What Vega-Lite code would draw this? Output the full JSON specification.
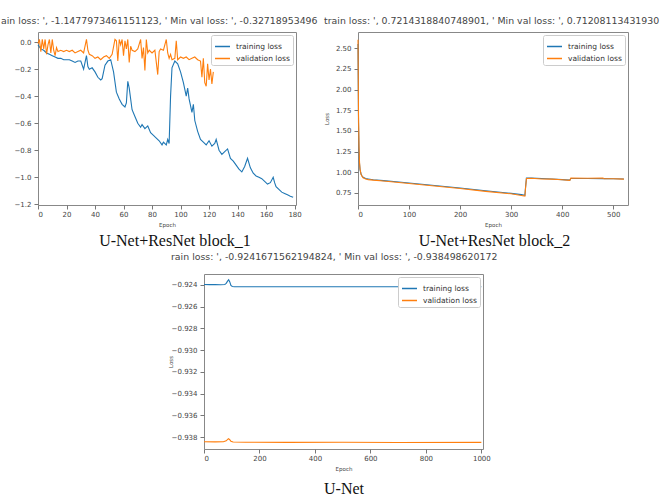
{
"$schema": "https://vega.github.io/schema/vega-lite/v6.json",
"padding": {"left": 0, "top": 15, "right": 0, "bottom": 0},
"background": "white",
"datasets": {
"d1": [
{"epoch":0,"loss":-0.02,"series":"training loss"},{"epoch":2,"loss":-0.05,"series":"training loss"},{"epoch":4,"loss":-0.06,"series":"training loss"},{"epoch":6,"loss":-0.08,"series":"training loss"},{"epoch":8,"loss":-0.09,"series":"training loss"},{"epoch":10,"loss":-0.10,"series":"training loss"},{"epoch":12,"loss":-0.11,"series":"training loss"},{"epoch":14,"loss":-0.12,"series":"training loss"},{"epoch":16,"loss":-0.12,"series":"training loss"},{"epoch":18,"loss":-0.13,"series":"training loss"},{"epoch":20,"loss":-0.13,"series":"training loss"},{"epoch":22,"loss":-0.13,"series":"training loss"},{"epoch":24,"loss":-0.14,"series":"training loss"},{"epoch":26,"loss":-0.15,"series":"training loss"},{"epoch":28,"loss":-0.14,"series":"training loss"},{"epoch":30,"loss":-0.14,"series":"training loss"},{"epoch":32,"loss":-0.20,"series":"training loss"},{"epoch":33,"loss":-0.15,"series":"training loss"},{"epoch":34,"loss":-0.10,"series":"training loss"},{"epoch":35,"loss":-0.18,"series":"training loss"},{"epoch":36,"loss":-0.20,"series":"training loss"},{"epoch":38,"loss":-0.19,"series":"training loss"},{"epoch":40,"loss":-0.22,"series":"training loss"},{"epoch":42,"loss":-0.26,"series":"training loss"},{"epoch":44,"loss":-0.28,"series":"training loss"},{"epoch":45,"loss":-0.27,"series":"training loss"},{"epoch":47,"loss":-0.17,"series":"training loss"},{"epoch":49,"loss":-0.14,"series":"training loss"},{"epoch":51,"loss":-0.13,"series":"training loss"},{"epoch":53,"loss":-0.22,"series":"training loss"},{"epoch":55,"loss":-0.37,"series":"training loss"},{"epoch":57,"loss":-0.42,"series":"training loss"},{"epoch":59,"loss":-0.46,"series":"training loss"},{"epoch":61,"loss":-0.48,"series":"training loss"},{"epoch":62,"loss":-0.45,"series":"training loss"},{"epoch":63,"loss":-0.29,"series":"training loss"},{"epoch":64,"loss":-0.34,"series":"training loss"},{"epoch":66,"loss":-0.50,"series":"training loss"},{"epoch":68,"loss":-0.55,"series":"training loss"},{"epoch":70,"loss":-0.60,"series":"training loss"},{"epoch":72,"loss":-0.63,"series":"training loss"},{"epoch":73,"loss":-0.61,"series":"training loss"},{"epoch":75,"loss":-0.64,"series":"training loss"},{"epoch":77,"loss":-0.62,"series":"training loss"},{"epoch":79,"loss":-0.67,"series":"training loss"},{"epoch":81,"loss":-0.69,"series":"training loss"},{"epoch":83,"loss":-0.71,"series":"training loss"},{"epoch":85,"loss":-0.73,"series":"training loss"},{"epoch":87,"loss":-0.76,"series":"training loss"},{"epoch":88,"loss":-0.74,"series":"training loss"},{"epoch":90,"loss":-0.76,"series":"training loss"},{"epoch":91,"loss":-0.72,"series":"training loss"},{"epoch":92,"loss":-0.75,"series":"training loss"},{"epoch":93,"loss":-0.40,"series":"training loss"},{"epoch":94,"loss":-0.19,"series":"training loss"},{"epoch":96,"loss":-0.14,"series":"training loss"},{"epoch":98,"loss":-0.16,"series":"training loss"},{"epoch":100,"loss":-0.22,"series":"training loss"},{"epoch":102,"loss":-0.30,"series":"training loss"},{"epoch":104,"loss":-0.40,"series":"training loss"},{"epoch":105,"loss":-0.34,"series":"training loss"},{"epoch":106,"loss":-0.42,"series":"training loss"},{"epoch":108,"loss":-0.52,"series":"training loss"},{"epoch":109,"loss":-0.46,"series":"training loss"},{"epoch":110,"loss":-0.58,"series":"training loss"},{"epoch":112,"loss":-0.66,"series":"training loss"},{"epoch":114,"loss":-0.72,"series":"training loss"},{"epoch":116,"loss":-0.74,"series":"training loss"},{"epoch":118,"loss":-0.76,"series":"training loss"},{"epoch":120,"loss":-0.73,"series":"training loss"},{"epoch":122,"loss":-0.77,"series":"training loss"},{"epoch":124,"loss":-0.75,"series":"training loss"},{"epoch":125,"loss":-0.72,"series":"training loss"},{"epoch":127,"loss":-0.80,"series":"training loss"},{"epoch":129,"loss":-0.83,"series":"training loss"},{"epoch":131,"loss":-0.81,"series":"training loss"},{"epoch":133,"loss":-0.79,"series":"training loss"},{"epoch":135,"loss":-0.86,"series":"training loss"},{"epoch":137,"loss":-0.88,"series":"training loss"},{"epoch":139,"loss":-0.91,"series":"training loss"},{"epoch":141,"loss":-0.94,"series":"training loss"},{"epoch":143,"loss":-0.96,"series":"training loss"},{"epoch":145,"loss":-0.92,"series":"training loss"},{"epoch":147,"loss":-0.86,"series":"training loss"},{"epoch":149,"loss":-0.93,"series":"training loss"},{"epoch":151,"loss":-0.97,"series":"training loss"},{"epoch":153,"loss":-0.99,"series":"training loss"},{"epoch":155,"loss":-1.00,"series":"training loss"},{"epoch":157,"loss":-1.01,"series":"training loss"},{"epoch":159,"loss":-1.03,"series":"training loss"},{"epoch":161,"loss":-1.05,"series":"training loss"},{"epoch":163,"loss":-1.04,"series":"training loss"},{"epoch":165,"loss":-1.00,"series":"training loss"},{"epoch":166,"loss":-1.04,"series":"training loss"},{"epoch":167,"loss":-1.07,"series":"training loss"},{"epoch":169,"loss":-1.09,"series":"training loss"},{"epoch":171,"loss":-1.11,"series":"training loss"},{"epoch":173,"loss":-1.12,"series":"training loss"},{"epoch":175,"loss":-1.13,"series":"training loss"},{"epoch":177,"loss":-1.14,"series":"training loss"},{"epoch":179,"loss":-1.148,"series":"training loss"},
{"epoch":0,"loss":-0.01,"series":"validation loss"},{"epoch":1,"loss":0.02,"series":"validation loss"},{"epoch":2,"loss":-0.07,"series":"validation loss"},{"epoch":3,"loss":0.02,"series":"validation loss"},{"epoch":4,"loss":-0.05,"series":"validation loss"},{"epoch":5,"loss":0.02,"series":"validation loss"},{"epoch":6,"loss":-0.09,"series":"validation loss"},{"epoch":7,"loss":-0.02,"series":"validation loss"},{"epoch":8,"loss":0.02,"series":"validation loss"},{"epoch":9,"loss":-0.08,"series":"validation loss"},{"epoch":10,"loss":0.02,"series":"validation loss"},{"epoch":11,"loss":-0.06,"series":"validation loss"},{"epoch":12,"loss":-0.10,"series":"validation loss"},{"epoch":13,"loss":-0.04,"series":"validation loss"},{"epoch":14,"loss":-0.07,"series":"validation loss"},{"epoch":16,"loss":-0.06,"series":"validation loss"},{"epoch":18,"loss":-0.07,"series":"validation loss"},{"epoch":20,"loss":-0.06,"series":"validation loss"},{"epoch":22,"loss":-0.07,"series":"validation loss"},{"epoch":24,"loss":-0.06,"series":"validation loss"},{"epoch":26,"loss":-0.08,"series":"validation loss"},{"epoch":28,"loss":-0.07,"series":"validation loss"},{"epoch":30,"loss":-0.06,"series":"validation loss"},{"epoch":32,"loss":-0.08,"series":"validation loss"},{"epoch":34,"loss":0.02,"series":"validation loss"},{"epoch":35,"loss":-0.06,"series":"validation loss"},{"epoch":36,"loss":-0.09,"series":"validation loss"},{"epoch":38,"loss":-0.10,"series":"validation loss"},{"epoch":40,"loss":-0.12,"series":"validation loss"},{"epoch":42,"loss":-0.11,"series":"validation loss"},{"epoch":44,"loss":-0.13,"series":"validation loss"},{"epoch":46,"loss":-0.11,"series":"validation loss"},{"epoch":48,"loss":-0.10,"series":"validation loss"},{"epoch":50,"loss":-0.12,"series":"validation loss"},{"epoch":52,"loss":-0.09,"series":"validation loss"},{"epoch":54,"loss":0.02,"series":"validation loss"},{"epoch":55,"loss":0.01,"series":"validation loss"},{"epoch":56,"loss":-0.14,"series":"validation loss"},{"epoch":57,"loss":0.02,"series":"validation loss"},{"epoch":58,"loss":-0.02,"series":"validation loss"},{"epoch":59,"loss":0.02,"series":"validation loss"},{"epoch":60,"loss":-0.10,"series":"validation loss"},{"epoch":61,"loss":0.01,"series":"validation loss"},{"epoch":62,"loss":-0.05,"series":"validation loss"},{"epoch":63,"loss":0.02,"series":"validation loss"},{"epoch":64,"loss":-0.15,"series":"validation loss"},{"epoch":65,"loss":-0.03,"series":"validation loss"},{"epoch":66,"loss":-0.06,"series":"validation loss"},{"epoch":68,"loss":-0.07,"series":"validation loss"},{"epoch":70,"loss":-0.05,"series":"validation loss"},{"epoch":72,"loss":0.02,"series":"validation loss"},{"epoch":73,"loss":-0.12,"series":"validation loss"},{"epoch":74,"loss":-0.04,"series":"validation loss"},{"epoch":75,"loss":-0.21,"series":"validation loss"},{"epoch":76,"loss":0.02,"series":"validation loss"},{"epoch":77,"loss":-0.08,"series":"validation loss"},{"epoch":78,"loss":-0.06,"series":"validation loss"},{"epoch":80,"loss":-0.08,"series":"validation loss"},{"epoch":82,"loss":-0.06,"series":"validation loss"},{"epoch":84,"loss":-0.24,"series":"validation loss"},{"epoch":85,"loss":-0.07,"series":"validation loss"},{"epoch":86,"loss":-0.05,"series":"validation loss"},{"epoch":88,"loss":-0.06,"series":"validation loss"},{"epoch":90,"loss":0.02,"series":"validation loss"},{"epoch":91,"loss":-0.08,"series":"validation loss"},{"epoch":92,"loss":-0.12,"series":"validation loss"},{"epoch":93,"loss":-0.09,"series":"validation loss"},{"epoch":94,"loss":-0.13,"series":"validation loss"},{"epoch":96,"loss":-0.12,"series":"validation loss"},{"epoch":97,"loss":0.01,"series":"validation loss"},{"epoch":98,"loss":-0.13,"series":"validation loss"},{"epoch":100,"loss":-0.11,"series":"validation loss"},{"epoch":102,"loss":-0.12,"series":"validation loss"},{"epoch":104,"loss":-0.11,"series":"validation loss"},{"epoch":106,"loss":-0.13,"series":"validation loss"},{"epoch":108,"loss":-0.12,"series":"validation loss"},{"epoch":110,"loss":-0.11,"series":"validation loss"},{"epoch":112,"loss":-0.13,"series":"validation loss"},{"epoch":114,"loss":-0.14,"series":"validation loss"},{"epoch":115,"loss":-0.26,"series":"validation loss"},{"epoch":116,"loss":-0.12,"series":"validation loss"},{"epoch":117,"loss":-0.30,"series":"validation loss"},{"epoch":118,"loss":-0.327,"series":"validation loss"},{"epoch":119,"loss":-0.16,"series":"validation loss"},{"epoch":120,"loss":-0.28,"series":"validation loss"},{"epoch":121,"loss":-0.20,"series":"validation loss"},{"epoch":122,"loss":-0.31,"series":"validation loss"},{"epoch":123,"loss":-0.22,"series":"validation loss"}
],
"d2": [
{"epoch":0,"loss":2.55,"series":"training loss"},{"epoch":1,"loss":1.60,"series":"training loss"},{"epoch":2,"loss":1.25,"series":"training loss"},{"epoch":3,"loss":1.10,"series":"training loss"},{"epoch":4,"loss":1.03,"series":"training loss"},{"epoch":6,"loss":0.98,"series":"training loss"},{"epoch":8,"loss":0.955,"series":"training loss"},{"epoch":10,"loss":0.94,"series":"training loss"},{"epoch":15,"loss":0.925,"series":"training loss"},{"epoch":20,"loss":0.92,"series":"training loss"},{"epoch":30,"loss":0.91,"series":"training loss"},{"epoch":50,"loss":0.90,"series":"training loss"},{"epoch":75,"loss":0.885,"series":"training loss"},{"epoch":100,"loss":0.87,"series":"training loss"},{"epoch":150,"loss":0.84,"series":"training loss"},{"epoch":200,"loss":0.81,"series":"training loss"},{"epoch":250,"loss":0.777,"series":"training loss"},{"epoch":300,"loss":0.745,"series":"training loss"},{"epoch":320,"loss":0.73,"series":"training loss"},{"epoch":327,"loss":0.7214,"series":"training loss"},{"epoch":328,"loss":0.80,"series":"training loss"},{"epoch":330,"loss":0.93,"series":"training loss"},{"epoch":340,"loss":0.93,"series":"training loss"},{"epoch":360,"loss":0.925,"series":"training loss"},{"epoch":380,"loss":0.92,"series":"training loss"},{"epoch":400,"loss":0.912,"series":"training loss"},{"epoch":415,"loss":0.905,"series":"training loss"},{"epoch":417,"loss":0.925,"series":"training loss"},{"epoch":450,"loss":0.925,"series":"training loss"},{"epoch":480,"loss":0.924,"series":"training loss"},{"epoch":500,"loss":0.922,"series":"training loss"},{"epoch":521,"loss":0.92,"series":"training loss"},
{"epoch":0,"loss":2.60,"series":"validation loss"},{"epoch":1,"loss":1.70,"series":"validation loss"},{"epoch":2,"loss":1.30,"series":"validation loss"},{"epoch":3,"loss":1.12,"series":"validation loss"},{"epoch":4,"loss":1.04,"series":"validation loss"},{"epoch":6,"loss":0.975,"series":"validation loss"},{"epoch":8,"loss":0.95,"series":"validation loss"},{"epoch":10,"loss":0.935,"series":"validation loss"},{"epoch":15,"loss":0.92,"series":"validation loss"},{"epoch":20,"loss":0.912,"series":"validation loss"},{"epoch":30,"loss":0.905,"series":"validation loss"},{"epoch":50,"loss":0.895,"series":"validation loss"},{"epoch":75,"loss":0.88,"series":"validation loss"},{"epoch":100,"loss":0.865,"series":"validation loss"},{"epoch":150,"loss":0.835,"series":"validation loss"},{"epoch":200,"loss":0.805,"series":"validation loss"},{"epoch":250,"loss":0.77,"series":"validation loss"},{"epoch":300,"loss":0.74,"series":"validation loss"},{"epoch":320,"loss":0.72,"series":"validation loss"},{"epoch":327,"loss":0.712,"series":"validation loss"},{"epoch":328,"loss":0.79,"series":"validation loss"},{"epoch":330,"loss":0.925,"series":"validation loss"},{"epoch":340,"loss":0.928,"series":"validation loss"},{"epoch":360,"loss":0.92,"series":"validation loss"},{"epoch":380,"loss":0.918,"series":"validation loss"},{"epoch":400,"loss":0.91,"series":"validation loss"},{"epoch":415,"loss":0.903,"series":"validation loss"},{"epoch":417,"loss":0.93,"series":"validation loss"},{"epoch":450,"loss":0.928,"series":"validation loss"},{"epoch":480,"loss":0.93,"series":"validation loss"},{"epoch":482,"loss":0.922,"series":"validation loss"},{"epoch":500,"loss":0.922,"series":"validation loss"},{"epoch":521,"loss":0.918,"series":"validation loss"}
],
"d3": [
{"epoch":0,"loss":-0.92395,"series":"training loss"},{"epoch":20,"loss":-0.92397,"series":"training loss"},{"epoch":40,"loss":-0.92396,"series":"training loss"},{"epoch":60,"loss":-0.92398,"series":"training loss"},{"epoch":75,"loss":-0.92395,"series":"training loss"},{"epoch":80,"loss":-0.92385,"series":"training loss"},{"epoch":85,"loss":-0.92365,"series":"training loss"},{"epoch":89,"loss":-0.92352,"series":"training loss"},{"epoch":93,"loss":-0.92372,"series":"training loss"},{"epoch":97,"loss":-0.92405,"series":"training loss"},{"epoch":102,"loss":-0.92414,"series":"training loss"},{"epoch":110,"loss":-0.92416,"series":"training loss"},{"epoch":200,"loss":-0.92417,"series":"training loss"},{"epoch":300,"loss":-0.92416,"series":"training loss"},{"epoch":400,"loss":-0.92417,"series":"training loss"},{"epoch":500,"loss":-0.92416,"series":"training loss"},{"epoch":600,"loss":-0.92417,"series":"training loss"},{"epoch":700,"loss":-0.92416,"series":"training loss"},{"epoch":800,"loss":-0.92417,"series":"training loss"},{"epoch":900,"loss":-0.92416,"series":"training loss"},{"epoch":1000,"loss":-0.92417,"series":"training loss"},
{"epoch":0,"loss":-0.93843,"series":"validation loss"},{"epoch":40,"loss":-0.93844,"series":"validation loss"},{"epoch":70,"loss":-0.93843,"series":"validation loss"},{"epoch":80,"loss":-0.93835,"series":"validation loss"},{"epoch":88,"loss":-0.93815,"series":"validation loss"},{"epoch":92,"loss":-0.93822,"series":"validation loss"},{"epoch":97,"loss":-0.93838,"series":"validation loss"},{"epoch":105,"loss":-0.93846,"series":"validation loss"},{"epoch":150,"loss":-0.93848,"series":"validation loss"},{"epoch":300,"loss":-0.93849,"series":"validation loss"},{"epoch":500,"loss":-0.93848,"series":"validation loss"},{"epoch":700,"loss":-0.9385,"series":"validation loss"},{"epoch":1000,"loss":-0.93849,"series":"validation loss"}
]
},
"vconcat": [
{
"hconcat": [
{
"width": 258, "height": 173,
"data": {"name": "d1"},
"title": {"text": "ain loss: ', -1.1477973461151123, ' Min val loss: ', -0.32718953496", "dx": -37, "offset": 6, "fontSize": 9.4},
"layer": [
{"mark": {"type": "line", "strokeWidth": 1.1},
"encoding": {
"x": {"field": "epoch", "type": "quantitative", "scale": {"domain": [0, 181], "nice": false}, "axis": {"values": [0,20,40,60,80,100,120,140,160,180], "format": "d", "title": "Epoch"}},
"y": {"field": "loss", "type": "quantitative", "scale": {"domain": [-1.205, 0.075], "nice": false, "zero": false}, "axis": {"values": [-1.2,-1.0,-0.8,-0.6,-0.4,-0.2,0.0], "format": ".1f", "title": null}},
"color": {"field": "series", "type": "nominal", "scale": {"domain": ["training loss","validation loss"], "range": ["#1f77b4","#ff7f0e"]}}
}},
{"mark": {"type": "line", "opacity": 0},
"encoding": {
"x": {"field": "epoch", "type": "quantitative", "axis": {"orient": "bottom", "labels": false, "ticks": false, "domain": false, "title": "U-Net+ResNet block_1", "titleFont": "Liberation Serif", "titleFontSize": 16, "titleColor": "#111", "titleX": 136.5, "titleY": 40, "titleAlign": "center", "titleBaseline": "alphabetic"}}
}}
],
"resolve": {"axis": {"x": "independent"}}
},
{
"width": 270, "height": 173,
"data": {"name": "d2"},
"title": {"text": "train loss: ', 0.7214318840748901, ' Min val loss: ', 0.71208113431930", "dx": -34, "offset": 6, "fontSize": 9.4},
"layer": [
{"mark": {"type": "line", "strokeWidth": 1.1},
"encoding": {
"x": {"field": "epoch", "type": "quantitative", "scale": {"domain": [0, 529], "nice": false}, "axis": {"values": [0,100,200,300,400,500], "format": "d", "title": "Epoch"}},
"y": {"field": "loss", "type": "quantitative", "scale": {"domain": [0.605, 2.695], "nice": false, "zero": false}, "axis": {"values": [0.75,1.0,1.25,1.5,1.75,2.0,2.25,2.5], "format": ".2f", "title": "Loss", "titleX": -32, "titleBaseline": "middle"}},
"color": {"field": "series", "type": "nominal", "scale": {"domain": ["training loss","validation loss"], "range": ["#1f77b4","#ff7f0e"]}}
}},
{"mark": {"type": "line", "opacity": 0},
"encoding": {
"x": {"field": "epoch", "type": "quantitative", "axis": {"orient": "bottom", "labels": false, "ticks": false, "domain": false, "title": "U-Net+ResNet block_2", "titleFont": "Liberation Serif", "titleFontSize": 16, "titleColor": "#111", "titleX": 136, "titleY": 40, "titleAlign": "center", "titleBaseline": "alphabetic"}}
}}
],
"resolve": {"axis": {"x": "independent"}}
}
],
"spacing": 62,
"bounds": "flush",
"resolve": {"scale": {"color": "independent"}, "legend": {"color": "independent"}}
},
{
"hconcat": [
{"width": 166, "height": 1, "data": {"values": []}, "mark": "point", "view": {"stroke": null}},
{
"width": 279, "height": 175,
"data": {"name": "d3"},
"title": {"text": "rain loss: ', -0.9241671562194824, ' Min val loss: ', -0.938498620172", "dx": -33, "offset": 12, "fontSize": 9.4},
"layer": [
{"mark": {"type": "line", "strokeWidth": 1.1},
"encoding": {
"x": {"field": "epoch", "type": "quantitative", "scale": {"domain": [0, 1006], "nice": false}, "axis": {"values": [0,200,400,600,800,1000], "format": "d", "title": "Epoch"}},
"y": {"field": "loss", "type": "quantitative", "scale": {"domain": [-0.9391, -0.92299], "nice": false, "zero": false}, "axis": {"values": [-0.938,-0.936,-0.934,-0.932,-0.930,-0.928,-0.926,-0.924], "format": ".3f", "title": "Loss", "titleX": -34, "titleBaseline": "middle"}},
"color": {"field": "series", "type": "nominal", "scale": {"domain": ["training loss","validation loss"], "range": ["#1f77b4","#ff7f0e"]}}
}},
{"mark": {"type": "line", "opacity": 0},
"encoding": {
"x": {"field": "epoch", "type": "quantitative", "axis": {"orient": "bottom", "labels": false, "ticks": false, "domain": false, "title": "U-Net", "titleFont": "Liberation Serif", "titleFontSize": 16, "titleColor": "#111", "titleX": 139.5, "titleY": 44, "titleAlign": "center", "titleBaseline": "alphabetic"}}
}}
],
"resolve": {"axis": {"x": "independent"}}
}
],
"spacing": 0,
"bounds": "flush",
"resolve": {"scale": {"color": "independent"}, "legend": {"color": "independent"}}
}
],
"spacing": 2,
"resolve": {"scale": {"color": "independent"}, "legend": {"color": "independent"}},
"config": {
"font": "DejaVu Sans",
"view": {"stroke": "#888", "strokeWidth": 1},
"title": {"font": "DejaVu Sans", "fontWeight": "normal", "color": "#444", "anchor": "start", "frame": "group", "baseline": "alphabetic"},
"axis": {"grid": false, "domain": false, "tickColor": "#777", "tickSize": 4, "labelColor": "#444", "labelFontSize": 7, "labelPadding": 3, "titleFontWeight": "normal", "titleColor": "#444", "titleFontSize": 5.5, "titlePadding": 4},
"axisX": {"labelPadding": 1, "titleY": 17},
"legend": {"title": null, "orient": "top-right", "offset": 3, "fillColor": "white", "strokeColor": "#ccc", "padding": 3, "cornerRadius": 2, "labelFontSize": 7.5, "labelColor": "#333", "symbolType": "stroke", "symbolSize": 225, "symbolStrokeWidth": 1.5, "rowPadding": -6, "labelOffset": 5}
}
}
